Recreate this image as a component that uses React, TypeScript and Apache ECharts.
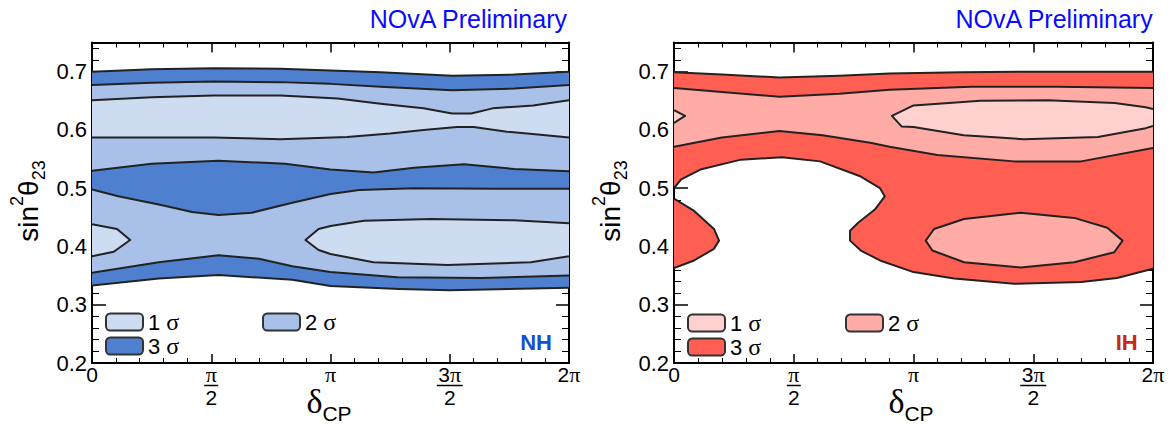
import React, { useEffect, useRef } from "react";
import * as echarts from "echarts";

type Pt = [number, number];

// ---------- axis ticks (delta_CP in units of pi) ----------
const X_TICKS = [0, 0.5, 1, 1.5, 2];
const X_TICK_LABELS = ["0", "π/2", "π", "3π/2", "2π"];
const Y_TICKS = [0.2, 0.3, 0.4, 0.5, 0.6, 0.7];
const Y_TICK_LABELS = ["0.2", "0.3", "0.4", "0.5", "0.6", "0.7"];

// ---------- NH contours (x: delta/pi, y: sin^2 theta23) ----------
const nhOuterTop: Pt[] = [[0, 0.7], [0.25, 0.704], [0.51, 0.706], [0.79, 0.705], [1.0, 0.702], [1.21, 0.699], [1.51, 0.693], [1.77, 0.695], [2, 0.7]];
const nhInnerTop: Pt[] = [[0, 0.677], [0.25, 0.681], [0.51, 0.683], [0.79, 0.682], [1.0, 0.679], [1.21, 0.674], [1.51, 0.668], [1.77, 0.671], [2, 0.677]];
const nhOneUpperTop: Pt[] = [[0, 0.651], [0.25, 0.656], [0.51, 0.659], [0.79, 0.659], [1.03, 0.654], [1.21, 0.645], [1.39, 0.637], [1.51, 0.628], [1.59, 0.628], [1.68, 0.637], [1.85, 0.642], [2, 0.651]];
const nhOneUpperBottom: Pt[] = [[0, 0.587], [0.51, 0.587], [0.79, 0.584], [1.07, 0.588], [1.25, 0.594], [1.39, 0.6], [1.53, 0.605], [1.6, 0.605], [1.74, 0.597], [1.87, 0.592], [2, 0.587]];
const nhMidTop: Pt[] = [[0, 0.53], [0.25, 0.542], [0.53, 0.547], [0.81, 0.542], [1.0, 0.532], [1.18, 0.527], [1.35, 0.535], [1.56, 0.541], [1.77, 0.533], [2, 0.529]];
const nhMidBottom: Pt[] = [[0, 0.498], [0.11, 0.486], [0.28, 0.472], [0.42, 0.459], [0.53, 0.454], [0.67, 0.458], [0.84, 0.475], [1.0, 0.49], [1.12, 0.497], [1.35, 0.5], [1.7, 0.499], [2, 0.499]];
const nhLowTop: Pt[] = [[0, 0.355], [0.28, 0.373], [0.53, 0.385], [0.7, 0.379], [0.84, 0.366], [1.0, 0.356], [1.28, 0.347], [1.63, 0.346], [2, 0.35]];
const nhLowBottom: Pt[] = [[0, 0.333], [0.28, 0.345], [0.53, 0.351], [0.84, 0.343], [1.0, 0.332], [1.29, 0.327], [1.5, 0.325], [2, 0.329]];
const nhIslandLeft: Pt[] = [[0, 0.438], [0.105, 0.43], [0.16, 0.411], [0.091, 0.391], [0, 0.383]];
const nhIslandRight: Pt[] = [[2, 0.44], [1.77, 0.445], [1.42, 0.447], [1.14, 0.444], [1.0, 0.435], [0.95, 0.43], [0.895, 0.411], [0.95, 0.394], [1.0, 0.387], [1.18, 0.373], [1.49, 0.368], [1.84, 0.373], [2, 0.383]];

// ---------- IH contours ----------
const ihOuterTop: Pt[] = [[0, 0.699], [0.2, 0.695], [0.44, 0.69], [0.69, 0.693], [0.9, 0.697], [1.2, 0.699], [1.52, 0.7], [2, 0.7]];
const ihInnerTop: Pt[] = [[0, 0.672], [0.2, 0.665], [0.44, 0.657], [0.69, 0.662], [0.9, 0.669], [1.24, 0.674], [1.6, 0.674], [2, 0.672]];
const ihTwoBottom: Pt[] = [[0, 0.571], [0.2, 0.587], [0.44, 0.598], [0.62, 0.591], [0.82, 0.578], [0.9, 0.571], [1.1, 0.557], [1.42, 0.546], [1.7, 0.546], [2, 0.569]];
const ihHole: Pt[] = [[0, 0.5], [0.03, 0.515], [0.11, 0.532], [0.28, 0.549], [0.45, 0.553], [0.61, 0.546], [0.78, 0.52], [0.86, 0.5], [0.88, 0.486], [0.84, 0.464], [0.77, 0.441], [0.735, 0.427], [0.735, 0.41], [0.78, 0.393], [0.86, 0.376], [1.0, 0.356], [1.17, 0.345], [1.42, 0.336], [1.7, 0.339], [1.85, 0.346], [2, 0.362]];
const ihLobe: Pt[] = [[0, 0.482], [0.084, 0.461], [0.167, 0.43], [0.188, 0.41], [0.167, 0.396], [0.084, 0.376], [0, 0.363]];
const ihSliver: Pt[] = [[0, 0.634], [0.046, 0.624], [0, 0.612]];
const ihOneIsland: Pt[] = [[2, 0.636], [1.97, 0.639], [1.84, 0.646], [1.56, 0.651], [1.28, 0.65], [1.0, 0.642], [0.91, 0.624], [0.95, 0.606], [1.0, 0.605], [1.21, 0.591], [1.46, 0.584], [1.77, 0.588], [1.97, 0.603], [2, 0.607]];
const ihTwoIsland: Pt[] = [[1.051, 0.41], [1.086, 0.43], [1.211, 0.447], [1.448, 0.458], [1.671, 0.449], [1.809, 0.432], [1.873, 0.41], [1.838, 0.39], [1.671, 0.373], [1.448, 0.364], [1.211, 0.373], [1.079, 0.393]];

const NH_COLORS = ["#cedcf2", "#a9c1e9", "#4f80d0"];
const IH_COLORS = ["#ffd1ce", "#ffaca7", "#ff5f53"];
const LINE = "#222";
const SANS = "'Liberation Sans', Arial, Helvetica, sans-serif";
const SERIF = "'Liberation Serif', 'Times New Roman', serif";

const band = (top: Pt[], bottom: Pt[]): Pt[] => [...top, ...[...bottom].reverse()];

function fillSeries(name: string, axis: number, polys: Pt[][], color: string, z: number) {
  return {
    type: "custom",
    name,
    xAxisIndex: axis,
    yAxisIndex: axis,
    z,
    clip: true,
    silent: true,
    itemStyle: { color },
    data: [[0, 0.5]],
    renderItem: (_p: any, api: any) => ({
      type: "group",
      children: polys.map((poly) => ({
        type: "polygon",
        shape: { points: poly.map((pt) => api.coord(pt)) },
        style: { fill: color, stroke: null },
      })),
    }),
  };
}

function lineSeries(axis: number, open: Pt[][], closed: Pt[][]) {
  return {
    type: "custom",
    name: "contours" + axis,
    xAxisIndex: axis,
    yAxisIndex: axis,
    z: 10,
    clip: true,
    silent: true,
    data: [[0, 0.5]],
    renderItem: (_p: any, api: any) => ({
      type: "group",
      children: [
        ...open.map((l) => ({
          type: "polyline",
          shape: { points: l.map((pt) => api.coord(pt)) },
          style: { stroke: LINE, lineWidth: 2, fill: null, lineJoin: "round" },
        })),
        ...closed.map((l) => ({
          type: "polygon",
          shape: { points: l.map((pt) => api.coord(pt)) },
          style: { stroke: LINE, lineWidth: 2, fill: null, lineJoin: "round" },
        })),
      ],
    }),
  };
}

const richTok = (s: string) =>
  s
    .split("")
    .map((c) => (c === "π" ? "{p|π}" : `{t|${c}}`))
    .join("");

function xLabel(v: number) {
  const i = X_TICKS.findIndex((t) => Math.abs(t - v) < 1e-6);
  if (i < 0) return "";
  const lbl = X_TICK_LABELS[i];
  if (lbl.includes("/")) {
    const [num, den] = lbl.split("/");
    const bar = num.length > 1 ? "{bar2| }" : "{bar1| }";
    return `${richTok(num)}\n${bar}\n{d|${den}}`;
  }
  return richTok(lbl);
}

function yLabel(v: number) {
  const i = Y_TICKS.findIndex((t) => Math.abs(t - v) < 1e-6);
  return i < 0 ? "" : Y_TICK_LABELS[i];
}

const xRich = {
  t: { fontFamily: SANS, fontSize: 21, color: "#000", lineHeight: 17 },
  p: { fontFamily: SERIF, fontSize: 22, color: "#000", lineHeight: 17 },
  d: { fontFamily: SANS, fontSize: 21, color: "#000", lineHeight: 18 },
  bar1: { width: 14, height: 1.5, backgroundColor: "#000", lineHeight: 5, fontSize: 2 },
  bar2: { width: 26, height: 1.5, backgroundColor: "#000", lineHeight: 5, fontSize: 2 },
};

function axesFor(grid: number) {
  const common = { type: "value", gridIndex: grid, min: 0, max: 2, interval: 0.5, splitLine: { show: false } };
  const axisLine = { show: true, onZero: false, lineStyle: { color: "#000", width: 2 } };
  const xs = [
    {
      ...common,
      position: "bottom",
      axisLine,
      axisTick: { inside: true, length: 9, lineStyle: { color: "#000", width: 1.5 } },
      minorTick: { show: true, splitNumber: 5, length: 5, lineStyle: { color: "#000", width: 1 } },
      axisLabel: { margin: 3, formatter: xLabel, rich: xRich, color: "#000" },
    },
    {
      ...common,
      position: "top",
      axisLine,
      axisTick: { inside: true, length: 10, lineStyle: { color: "#000", width: 1.5 } },
      minorTick: { show: true, splitNumber: 5, length: 5, lineStyle: { color: "#000", width: 1 } },
      axisLabel: { show: false },
    },
  ];
  const ycommon = { type: "value", gridIndex: grid, min: 0.2, max: 0.75, interval: 0.1, splitLine: { show: false } };
  const ys = [
    {
      ...ycommon,
      position: "left",
      axisLine,
      axisTick: { inside: true, length: 14, lineStyle: { color: "#000", width: 1.5 } },
      minorTick: { show: true, splitNumber: 5, length: 7, lineStyle: { color: "#000", width: 1 } },
      axisLabel: { margin: 5, formatter: yLabel, fontSize: 22, fontFamily: SANS, color: "#000" },
    },
    {
      ...ycommon,
      position: "right",
      axisLine,
      axisTick: { inside: true, length: 13, lineStyle: { color: "#000", width: 1.5 } },
      minorTick: { show: true, splitNumber: 5, length: 7, lineStyle: { color: "#000", width: 1 } },
      axisLabel: { show: false },
    },
  ];
  return { xs, ys };
}

const legendCommon = {
  padding: 0,
  itemWidth: 37,
  itemHeight: 17,
  icon: "roundRect",
  selectedMode: false,
  itemGap: 0,
  itemStyle: { borderColor: "#333", borderWidth: 2 },
  textStyle: {
    fontSize: 22,
    fontFamily: SANS,
    color: "#000",
    rich: { s: { fontFamily: SERIF, fontSize: 24, color: "#000" } },
  },
  formatter: (n: string) => `${n.slice(2)} {s|σ}`,
};

function texts(x0: number, right: number, tag: string, tagColor: string) {
  const yTitleRich = {
    m: { fontFamily: SANS, fontSize: 28, lineHeight: 40, color: "#000" },
    sup: { fontFamily: SANS, fontSize: 18, lineHeight: 26, verticalAlign: "top", color: "#000" },
    sub: { fontFamily: SANS, fontSize: 18, lineHeight: 22, verticalAlign: "bottom", color: "#000" },
  };
  const xTitleRich = {
    d: { fontFamily: SERIF, fontSize: 34, lineHeight: 40, verticalAlign: "top", color: "#000" },
    s: { fontFamily: SANS, fontSize: 21, lineHeight: 22, verticalAlign: "bottom", color: "#000" },
  };
  return [
    {
      type: "text",
      x: right,
      y: 19,
      style: { text: "NOvA Preliminary", fill: "#0a0aff", fontSize: 25, fontFamily: SANS, align: "right", verticalAlign: "middle" },
    },
    {
      type: "text",
      x: right - 15,
      y: 342,
      style: { text: tag, fill: tagColor, fontSize: 22, fontWeight: "bold", fontFamily: SANS, align: "right", verticalAlign: "middle" },
    },
    {
      type: "text",
      x: x0 - 64,
      y: 201,
      rotation: Math.PI / 2,
      style: { text: "{m|sin}{sup|2}{m|θ}{sub|23}", rich: yTitleRich, align: "center", verticalAlign: "middle" },
    },
    {
      type: "text",
      x: x0 + 237,
      y: 404,
      style: { text: "{d|δ}{s|CP}", rich: xTitleRich, align: "center", verticalAlign: "middle" },
    },
  ];
}

export default function App() {
  const ref = useRef<HTMLDivElement>(null);
  useEffect(() => {
    if (!ref.current) return;
    const chart = echarts.init(ref.current, undefined, { renderer: "svg" });
    const a = axesFor(0);
    const b = axesFor(1);
    const option: any = {
      animation: false,
      backgroundColor: "#fff",
      grid: [
        { left: 92, top: 42.5, width: 477, height: 320.5 },
        { left: 674, top: 42.5, width: 479, height: 320.5 },
      ],
      xAxis: [...a.xs, ...b.xs],
      yAxis: [...a.ys, ...b.ys],
      legend: [
        { ...legendCommon, data: ["NH1"], left: 105, top: 310 },
        { ...legendCommon, data: ["NH2"], left: 262, top: 310 },
        { ...legendCommon, data: ["NH3"], left: 105, top: 334 },
        { ...legendCommon, data: ["IH1"], left: 687, top: 311 },
        { ...legendCommon, data: ["IH2"], left: 845, top: 311 },
        { ...legendCommon, data: ["IH3"], left: 687, top: 335 },
      ],
      series: [
        fillSeries("NH3", 0, [band(nhOuterTop, nhLowBottom)], NH_COLORS[2], 1),
        fillSeries("NH2", 0, [band(nhInnerTop, nhLowTop)], NH_COLORS[1], 2),
        fillSeries("NH3", 0, [band(nhMidTop, nhMidBottom)], NH_COLORS[2], 3),
        fillSeries("NH1", 0, [band(nhOneUpperTop, nhOneUpperBottom), nhIslandLeft, nhIslandRight], NH_COLORS[0], 4),
        lineSeries(0, [nhOuterTop, nhInnerTop, nhOneUpperTop, nhOneUpperBottom, nhMidTop, nhMidBottom, nhLowTop, nhLowBottom, nhIslandLeft, nhIslandRight], []),
        fillSeries("IH3", 2, [band(ihOuterTop, ihHole), ihLobe], IH_COLORS[2], 1),
        fillSeries("IH2", 2, [band(ihInnerTop, ihTwoBottom)], IH_COLORS[1], 2),
        fillSeries("IH1", 2, [ihSliver, ihOneIsland], IH_COLORS[0], 3),
        fillSeries("IH2", 2, [ihTwoIsland], IH_COLORS[1], 4),
        lineSeries(2, [ihOuterTop, ihInnerTop, ihTwoBottom, ihHole, ihLobe, ihSliver, ihOneIsland], [ihTwoIsland]),
      ],
      graphic: [...texts(92, 567, "NH", "#1550c8"), ...texts(674, 1152.7, "IH", "#c8281a")],
    };
    chart.setOption(option);
    return () => chart.dispose();
  }, []);
  return <div ref={ref} style={{ position: "fixed", left: 0, top: 0, width: 1170, height: 424, background: "#fff" }} />;
}
